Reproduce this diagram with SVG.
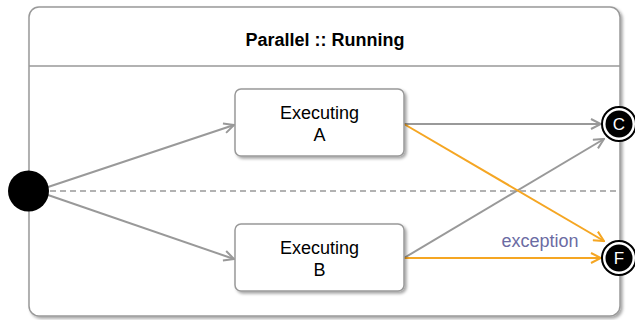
<svg xmlns="http://www.w3.org/2000/svg" width="635" height="320" viewBox="0 0 635 320">
<style>
.lbl{font-family:"Liberation Sans",Arial,sans-serif;font-size:18px;fill:#000;text-anchor:middle}
.title{font-weight:bold}
.edge{fill:none;stroke:#999;stroke-width:2}
.err{fill:none;stroke:#F5A623;stroke-width:2}
.box{fill:#fff;stroke:#999;stroke-width:1.5}
.term{font-family:"Liberation Sans",Arial,sans-serif;font-size:17px;fill:#fff;text-anchor:middle}
</style>
<defs>
<filter id="sh" x="-10%" y="-10%" width="130%" height="130%">
<feDropShadow dx="2" dy="2" stdDeviation="1.5" flood-color="#000" flood-opacity="0.35"/>
</filter>
<marker id="ag" viewBox="0 0 12 12" refX="11" refY="6" markerWidth="12" markerHeight="12" markerUnits="userSpaceOnUse" orient="auto">
<path d="M1,1 L11,6 L1,11" fill="none" stroke="#999" stroke-width="2"/>
</marker>
<marker id="ao" viewBox="0 0 12 12" refX="11" refY="6" markerWidth="12" markerHeight="12" markerUnits="userSpaceOnUse" orient="auto">
<path d="M1,1 L11,6 L1,11" fill="none" stroke="#F5A623" stroke-width="2"/>
</marker>
</defs>
<g id="running">
<rect x="29" y="7" width="591" height="309" rx="10" class="box" filter="url(#sh)"/>
<line x1="29" y1="66" x2="620" y2="66" stroke="#999" stroke-width="1.5"/>
<text x="325" y="46" class="lbl title">Parallel :: Running</text>
<line x1="50" y1="191" x2="620" y2="191" stroke="#999" stroke-width="1.5" stroke-dasharray="6,4"/>
</g>
<g id="connectors">
<line x1="48" y1="187" x2="234" y2="125" class="edge" marker-end="url(#ag)"/>
<line x1="48" y1="195" x2="234" y2="259" class="edge" marker-end="url(#ag)"/>
<line x1="404" y1="124" x2="601" y2="124" class="edge" marker-end="url(#ag)"/>
<line x1="404" y1="258" x2="604" y2="139" class="edge" marker-end="url(#ag)"/>
<line x1="404" y1="124" x2="604" y2="241" class="err" marker-end="url(#ao)"/>
<line x1="404" y1="258" x2="601" y2="258" class="err" marker-end="url(#ao)"/>
<text x="540" y="247" font-family="Liberation Sans,Arial,sans-serif" font-size="18" fill="#6B6BA3" text-anchor="middle">exception</text>
</g>
<g id="initial">
<circle cx="28.5" cy="191" r="20.5" fill="#000"/>
</g>
<g id="executingA">
<rect x="235" y="89" width="169" height="67" rx="6" class="box" filter="url(#sh)"/>
<text x="319.5" y="119" class="lbl">Executing</text>
<text x="319.5" y="141" class="lbl">A</text>
</g>
<g id="executingB">
<rect x="235" y="224" width="169" height="67" rx="6" class="box" filter="url(#sh)"/>
<text x="319.5" y="254" class="lbl">Executing</text>
<text x="319.5" y="276" class="lbl">B</text>
</g>
<g id="C">
<circle cx="619" cy="124" r="17" fill="#fff" stroke="#000" stroke-width="2"/>
<circle cx="619" cy="124" r="13.5" fill="#000"/>
<text x="619" y="130" class="term">C</text>
</g>
<g id="F">
<circle cx="619" cy="258" r="17" fill="#fff" stroke="#000" stroke-width="2"/>
<circle cx="619" cy="258" r="13.5" fill="#000"/>
<text x="619" y="264" class="term">F</text>
</g>
</svg>
